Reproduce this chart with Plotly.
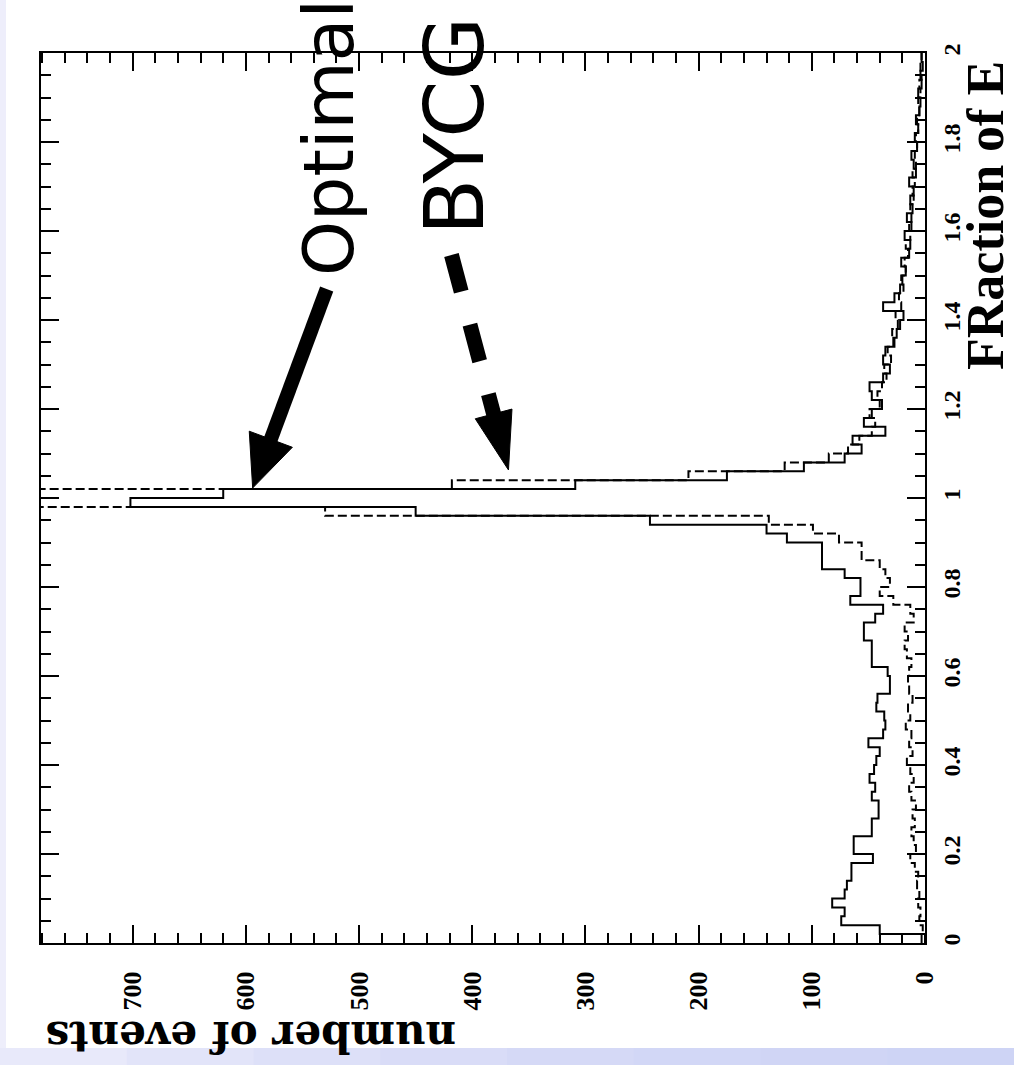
import math
import plotly.graph_objects as go

# Histogram binning: 100 bins of width 0.02 over the fraction range [0, 2]
bin_width = 0.02
n_bins = 100
bin_edges = [round(i * bin_width, 2) for i in range(n_bins + 1)]

# Events per bin, "Optimal" reconstruction (solid line)
optimal_counts = [
    0, 40, 74, 71, 82, 71, 69, 65, 65, 46,
    63, 63, 47, 47, 41, 41, 47, 44, 49, 45,
    43, 40, 50, 37, 35, 36, 43, 42, 31, 31,
    33, 47, 47, 47, 54, 54, 44, 37, 66, 57,
    57, 71, 91, 91, 91, 122, 140, 243, 450, 702,
    620, 309, 175, 107, 71, 56, 64, 35, 54, 47,
    38, 47, 49, 37, 31, 37, 35, 28, 25, 22,
    19, 37, 27, 22, 20, 17, 21, 14, 13, 18,
    12, 16, 11, 13, 10, 14, 8, 10, 12, 7,
    9, 6, 8, 5, 4, 6, 3, 4, 2, 3,
]

# Events per bin, "BYCG" reconstruction (dashed line); the two central bins run off scale
bycg_counts = [
    3, 2, 5, 4, 6, 5, 7, 6, 9, 13,
    8, 10, 12, 9, 11, 8, 12, 14, 10, 13,
    16, 11, 14, 12, 17, 13, 15, 11, 14, 15,
    14, 12, 16, 18, 15, 18, 10, 13, 28, 40,
    31, 35, 40, 56, 56, 76, 99, 138, 530, 860,
    830, 418, 209, 124, 85, 68, 58, 47, 44, 49,
    40, 42, 38, 34, 36, 30, 33, 27, 29, 24,
    26, 21, 23, 19, 21, 17, 18, 15, 17, 13,
    14, 12, 13, 10, 11, 9, 11, 8, 9, 7,
    8, 6, 7, 5, 6, 4, 5, 3, 4, 3,
]

events_max = 781
frac_range = [0, 2]

fig = go.Figure()

# Rotated step histograms: counts along x, fraction along y
for counts, dash in [(optimal_counts, "solid"), (bycg_counts, "9px,4px")]:
    fig.add_trace(go.Scatter(
        x=counts + [counts[-1]],
        y=bin_edges,
        mode="lines",
        line=dict(color="black", width=2, dash=dash, shape="vh"),
        hoverinfo="skip",
        showlegend=False,
    ))

axis_common = dict(
    ticks="inside", tickwidth=2, tickcolor="black", ticklen=18,
    showline=True, linewidth=2, linecolor="black", mirror="allticks",
    showgrid=False, zeroline=False, tickangle=-90,
)

fig.update_xaxes(
    range=[events_max, 0], autorange=False, tick0=0, dtick=100,
    minor=dict(tick0=0, dtick=20, ticks="inside", ticklen=10, tickwidth=2,
               tickcolor="black", showgrid=False),
    ticklabelstandoff=16,
    tickfont=dict(family="Liberation Serif", size=26, color="black", weight="bold"),
    **axis_common,
)
fig.update_yaxes(
    range=frac_range, autorange=False, side="right", tick0=0, dtick=0.2,
    minor=dict(tick0=0, dtick=0.05, ticks="inside", ticklen=10, tickwidth=2,
               tickcolor="black", showgrid=False),
    ticklabelstandoff=4,
    tickfont=dict(family="Liberation Serif", size=24, color="black", weight="bold"),
    **axis_common,
)


def arrow(tip_x, tip_y, tail_dx, tail_dy, head_len, head_w, shaft_w, dash="solid"):
    """Arrow anchored at a data point; geometry given in pixel offsets (y up)."""
    length = math.hypot(tail_dx, tail_dy)
    ux, uy = tail_dx / length, tail_dy / length
    bx, by = ux * head_len, uy * head_len
    px, py = -uy * head_w / 2, ux * head_w / 2
    common = dict(xref="x", yref="y", xsizemode="pixel", ysizemode="pixel",
                  xanchor=tip_x, yanchor=tip_y, layer="above")
    shaft = dict(type="line", x0=tail_dx, y0=tail_dy,
                 x1=bx * 0.98, y1=by * 0.98,
                 line=dict(color="black", width=shaft_w, dash=dash), **common)
    head = dict(type="path",
                path=f"M 0,0 L {bx + px:.1f},{by + py:.1f} L {bx - px:.1f},{by - py:.1f} Z",
                fillcolor="black", line=dict(color="black", width=1), **common)
    return [shaft, head]


shapes = []

# Page decoration: lavender strip on the left and a band along the bottom
plot_w, plot_h = 884, 890
def px_x(p):
    return (p - 41) / plot_w
def px_y(p):
    return (943 - p) / plot_h

shapes.append(dict(type="rect", xref="paper", yref="paper", layer="below",
                   x0=px_x(0), x1=px_x(6), y0=px_y(1048), y1=px_y(0),
                   fillcolor="#EEEEFB", line=dict(width=0)))
band_cols = ["#E8E9FA", "#E2E4F9", "#DDE0F8", "#D9DCF7", "#D5D9F6", "#D2D7F6", "#D0D5F5", "#CED4F5"]
step = 1014 / len(band_cols)
for i, c in enumerate(band_cols):
    shapes.append(dict(type="rect", xref="paper", yref="paper", layer="below",
                       x0=px_x(i * step), x1=px_x((i + 1) * step + 1),
                       y0=px_y(1065), y1=px_y(1048),
                       fillcolor=c, line=dict(width=0)))

# Arrows pointing at the two reconstructions
shapes += arrow(594, 1.0225, 74, 199, 52, 46, 14)
shapes += arrow(368, 1.063, -57, 215, 58, 38, 15, dash="38px,34px")

fig.update_layout(shapes=shapes)

annotations = [
    dict(text="Optimal", x=px_x(329), y=px_y(138), xref="paper", yref="paper",
         showarrow=False, textangle=-90, xanchor="center", yanchor="middle",
         font=dict(family="DejaVu Sans", size=70, color="black")),
    dict(text="BYCG", x=px_x(454), y=px_y(126), xref="paper", yref="paper",
         showarrow=False, textangle=-90, xanchor="center", yanchor="middle",
         font=dict(family="DejaVu Sans", size=82, color="black")),
    dict(text="FRaction of E", x=px_x(985), y=px_y(216), xref="paper", yref="paper",
         showarrow=False, textangle=-90, xanchor="center", yanchor="middle",
         font=dict(family="Liberation Serif", size=52, color="black", weight="bold")),
    dict(text="number of events", x=px_x(251), y=px_y(1037), xref="paper", yref="paper",
         showarrow=False, textangle=180, xanchor="center", yanchor="middle",
         font=dict(family="DejaVu Serif", size=42, color="black", weight="bold")),
]
fig.update_layout(annotations=annotations)

fig.update_layout(
    width=1014, height=1065, autosize=False,
    margin=dict(l=41, r=89, t=53, b=122, pad=0),
    paper_bgcolor="white", plot_bgcolor="white",
    showlegend=False,
)

fig.write_html("out.html")
